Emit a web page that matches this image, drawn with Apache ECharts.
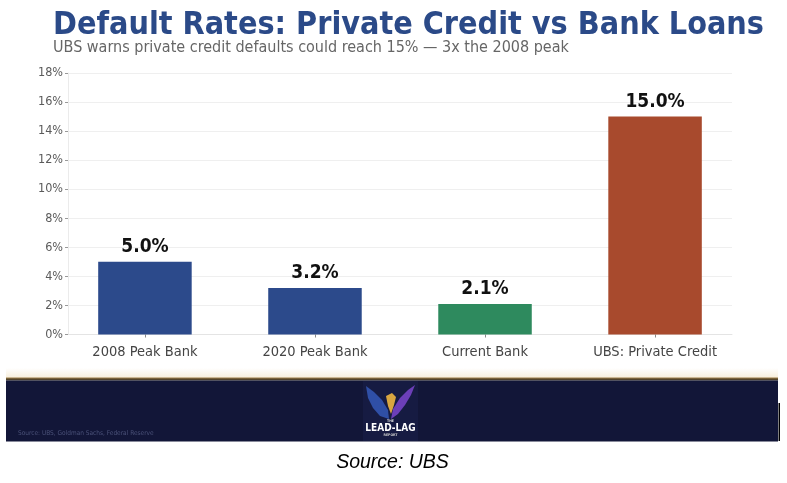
<!DOCTYPE html>
<html>
<head>
<meta charset="utf-8">
<script src="https://cdn.jsdelivr.net/npm/echarts@6/dist/echarts.min.js"></script>
<style>
html,body{margin:0;padding:0;background:#fff;}
#chart{width:787px;height:483px;}
</style>
</head>
<body>
<div id="chart"></div>
<script>
const categories = ["2008 Peak Bank", "2020 Peak Bank", "Current Bank", "UBS: Private Credit"];
const defaultRates = [5.0, 3.2, 2.1, 15.0];
const barColors = ["#2c4a8b", "#2c4a8b", "#2e8a5e", "#a84a2d"];
const yTicks = [0, 2, 4, 6, 8, 10, 12, 14, 16, 18];

const FONT = "'DejaVu Sans Condensed', 'DejaVu Sans', sans-serif";
const chart = echarts.init(document.getElementById('chart'), null, {renderer: 'canvas'});

const barData = defaultRates.map((v, i) => ({
  value: [i, v],
  itemStyle: {color: barColors[i]}
}));

chart.setOption({
  animation: false,
  backgroundColor: '#ffffff',
  textStyle: {fontFamily: FONT},
  grid: {left: 68, right: 55, top: 73, bottom: 148.5, containLabel: false},
  xAxis: {
    type: 'value',
    min: -0.4525,
    max: 3.4525,
    splitLine: {show: false},
    axisLine: {show: true, onZero: false, lineStyle: {color: '#e4e4e4', width: 1}},
    axisTick: {show: true, customValues: [0, 1, 2, 3], length: 3, lineStyle: {color: '#888'}},
    axisLabel: {
      customValues: [0, 1, 2, 3],
      formatter: v => categories[Math.round(v)],
      color: '#444', fontSize: 14.5, margin: 10, fontFamily: FONT
    }
  },
  yAxis: {
    type: 'value',
    min: yTicks[0],
    max: yTicks[yTicks.length - 1],
    interval: 2,
    axisLine: {show: true, onZero: false, lineStyle: {color: '#ebebeb', width: 1}},
    axisTick: {show: true, length: 3, lineStyle: {color: '#999'}},
    axisLabel: {formatter: '{value}%', color: '#5a5a5a', fontSize: 12.5, margin: 5, fontFamily: FONT},
    splitLine: {show: true, lineStyle: {color: '#efefef', width: 1}}
  },
  series: [{
    type: 'bar',
    data: barData,
    barWidth: 93.5,
    label: {
      show: true,
      position: 'top',
      distance: 5,
      formatter: p => p.value[1].toFixed(1) + '%',
      fontFamily: FONT,
      fontWeight: 'bold',
      fontSize: 19,
      color: '#111'
    }
  }],
  graphic: [
    {type: 'text', left: 53, top: 10, style: {text: 'Default Rates: Private Credit vs Bank Loans', font: "bold 32px " + FONT, fill: '#2b4a88'}},
    {type: 'text', left: 53, top: 40, style: {text: 'UBS warns private credit defaults could reach 15% \u2014 3x the 2008 peak', font: "16px " + FONT, fill: '#666'}},
    // cream fade above banner
    {type: 'rect', shape: {x: 6, y: 368, width: 772, height: 10}, style: {fill: new echarts.graphic.LinearGradient(0, 0, 0, 1, [{offset: 0, color: '#ffffff'}, {offset: 1, color: '#f7eedb'}])}},
    {type: 'rect', shape: {x: 6, y: 377.5, width: 772, height: 3}, style: {fill: new echarts.graphic.LinearGradient(0, 0, 0, 1, [{offset: 0, color: '#a0804a'}, {offset: 1, color: '#2a2418'}])}},
    {type: 'rect', shape: {x: 6, y: 380.5, width: 772, height: 61}, style: {fill: '#121638'}},
    {type: 'text', left: 18, top: 430, style: {text: 'Source: UBS, Goldman Sachs, Federal Reserve', font: "6.5px " + FONT, fill: '#4a5178'}},
    // logo
    {type: 'rect', shape: {x: 363, y: 381, width: 55, height: 60}, style: {fill: '#161b42'}},
    {type: 'polygon', shape: {points: [[366, 386], [374, 392], [382, 400], [388, 410], [389, 419], [380, 416], [373, 408], [368, 398]]}, style: {fill: '#2f4fa6'}},
    {type: 'polygon', shape: {points: [[415, 385], [411, 395], [405, 405], [398, 414], [391, 419], [393, 409], [400, 398], [408, 390]]}, style: {fill: '#6c3fb8'}},
    {type: 'polygon', shape: {points: [[386, 396], [392, 393], [396, 397], [394, 405], [391, 414], [388, 406]]}, style: {fill: '#d9a640'}},
    {type: 'text', x: 390.5, y: 421, style: {text: 'THE', font: "bold 3.5px " + FONT, fill: '#ddd', align: 'center', verticalAlign: 'middle'}},
    {type: 'text', x: 390.5, y: 428, style: {text: 'LEAD-LAG', font: "bold 10px " + FONT, fill: '#ffffff', align: 'center', verticalAlign: 'middle'}},
    {type: 'text', x: 390.5, y: 435, style: {text: 'REPORT', font: "bold 3.5px " + FONT, fill: '#ccc', align: 'center', verticalAlign: 'middle'}},
    // right edge mark
    {type: 'rect', shape: {x: 778.5, y: 403, width: 1.5, height: 38}, style: {fill: '#000'}},
    {type: 'text', x: 392.5, y: 463, style: {text: 'Source: UBS', font: "italic 19.5px 'Liberation Sans', sans-serif", fill: '#000', align: 'center', verticalAlign: 'middle'}}
  ]
});
</script>
</body>
</html>
